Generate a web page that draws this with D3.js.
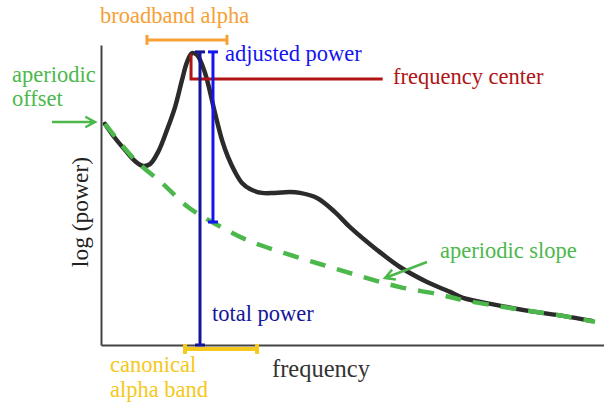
<!DOCTYPE html>
<html>
<head>
<meta charset="utf-8">
<script src="https://cdn.jsdelivr.net/npm/d3@7"></script>
<style>
  body { margin: 0; background: #fff; }
</style>
</head>
<body>
<svg id="chart" width="604" height="406" font-family="'Liberation Serif', 'Times New Roman', Times, serif"></svg>
<script>
// power spectrum (Hz, log power)
const freq = [0.4, 1.39, 2.39, 3.38, 4.17, 4.87, 5.67, 6.56, 7.36, 8.05, 8.55, 9.05, 9.54, 10.34, 11.33, 12.03, 12.62, 13.32, 14.02, 14.81, 16.0, 17.3, 18.79, 19.78, 21.47, 23.26, 24.75, 27.44, 29.72, 32.41, 34.69, 35.98, 39.36, 42.64, 45.92, 48.81];
const power = [7.37, 6.9, 6.5, 6.13, 5.97, 6.03, 6.43, 7.17, 7.93, 8.83, 9.43, 9.73, 9.67, 9.07, 7.73, 6.83, 6.27, 5.77, 5.4, 5.2, 5.07, 5.07, 5.1, 5.07, 4.9, 4.43, 3.93, 3.17, 2.6, 2.1, 1.77, 1.57, 1.33, 1.13, 0.97, 0.8];

// aperiodic fit
const fitFreq = [0.4, 3.38, 6.06, 8.65, 11.03, 14.31, 16.1, 19.78, 23.06, 26.44, 29.72, 33.4, 35.98, 39.36, 42.64, 45.92, 49.11];
const fitPower = [7.37, 6.17, 5.4, 4.6, 4.1, 3.53, 3.3, 2.9, 2.57, 2.23, 1.93, 1.7, 1.5, 1.3, 1.13, 0.97, 0.77];

// annotations (Hz / log power)
const broadbandAlpha = [4.57, 12.52];
const canonicalAlpha = [8.35, 15.51];
const centerFreq = [8.95, 28.0];
const totalPowerFreq = 9.84;
const adjustedFreq = 11.13;
const peakPower = 9.77;
const fitAtPeak = 4.1;

const svg = d3.select("#chart");

const x = d3.scaleLinear().domain([0, 50]).range([101, 604]);
const y = d3.scaleLinear().domain([0, 10]).range([345, 45]);

const green = "#4cb84c", navy = "#15159a", blue = "#1414f0", red = "#b01414", orange = "#f7a035", yellow = "#f5c81c";

// axes, no ticks
svg.append("g").attr("transform", `translate(0,${y(0)})`)
    .call(d3.axisBottom(x).tickValues([]).tickSizeOuter(0))
    .select(".domain").attr("stroke", "#444").attr("stroke-width", 2);
svg.append("g").attr("transform", `translate(${x(0)},0)`)
    .call(d3.axisLeft(y).tickValues([]).tickSizeOuter(0))
    .select(".domain").attr("stroke", "#444").attr("stroke-width", 2);

const line = d3.line().x(d => x(d[0])).y(d => y(d[1])).curve(d3.curveCatmullRom);

svg.append("path").datum(d3.zip(freq, power))
    .attr("d", line).attr("fill", "none").attr("stroke", "#2b2b2b").attr("stroke-width", 4.5)
    .attr("stroke-linecap", "round");

svg.append("path").datum(d3.zip(fitFreq, fitPower))
    .attr("d", line).attr("fill", "none").attr("stroke", green).attr("stroke-width", 4.5)
    .attr("stroke-dasharray", "16 12");

// frequency center
svg.append("path")
    .attr("d", `M${x(centerFreq[0])},${y(9.7)}V${y(8.87)}H${x(centerFreq[1])}`)
    .attr("fill", "none").attr("stroke", red).attr("stroke-width", 3);

// vertical bars with caps
function vbar(fx, top, bottom, color) {
    const g = svg.append("g").attr("stroke", color).attr("stroke-width", 3);
    g.append("line").attr("x1", x(fx)).attr("x2", x(fx)).attr("y1", y(top)).attr("y2", y(bottom));
    [top, bottom].forEach(v => g.append("line")
        .attr("x1", x(fx) - 5).attr("x2", x(fx) + 5).attr("y1", y(v)).attr("y2", y(v)));
}
vbar(totalPowerFreq, peakPower, 0, navy);
vbar(adjustedFreq, peakPower, fitAtPeak, blue);

// horizontal bands with caps
function hbar(range, v, color, w) {
    const g = svg.append("g").attr("stroke", color).attr("stroke-width", w);
    g.append("line").attr("x1", x(range[0])).attr("x2", x(range[1])).attr("y1", y(v)).attr("y2", y(v));
    range.forEach(f => g.append("line")
        .attr("x1", x(f)).attr("x2", x(f)).attr("y1", y(v) - 5).attr("y2", y(v) + 5));
}
hbar(broadbandAlpha, 10.17, orange, 3);
hbar(canonicalAlpha, -0.13, yellow, 4);

// arrows
function arrow(x1, y1, x2, y2) {
    const a = Math.atan2(y2 - y1, x2 - x1), L = 11, s = 0.5;
    svg.append("path")
        .attr("d", `M${x1},${y1}L${x2},${y2}M${x2 - L * Math.cos(a - s)},${y2 - L * Math.sin(a - s)}L${x2},${y2}L${x2 - L * Math.cos(a + s)},${y2 - L * Math.sin(a + s)}`)
        .attr("fill", "none").attr("stroke", green).attr("stroke-width", 2.5);
}
arrow(52, 122, 95, 122);
arrow(427, 262, 385, 278);

// labels
function label(tx, ty, txt, color, size) {
    svg.append("text").attr("x", tx).attr("y", ty).attr("fill", color)
        .attr("font-family", "'Liberation Serif', serif")
        .attr("font-size", size || 22.5).text(txt);
}
label(100, 23, "broadband alpha", orange);
label(225, 61, "adjusted power", blue);
label(393, 84, "frequency center", red);
label(12, 82, "aperiodic", green);
label(12, 106, "offset", green);
label(212, 321, "total power", navy);
label(440, 258, "aperiodic slope", green);
label(110, 372, "canonical", yellow);
label(110, 397, "alpha band", yellow);
label(272, 377, "frequency", "#333", 24.5);

svg.append("text").attr("transform", "translate(88,212) rotate(-90)")
    .attr("font-family", "'Liberation Serif', serif")
    .attr("text-anchor", "middle").attr("fill", "#222").attr("font-size", 23.5).text("log (power)");
</script>
</body>
</html>
